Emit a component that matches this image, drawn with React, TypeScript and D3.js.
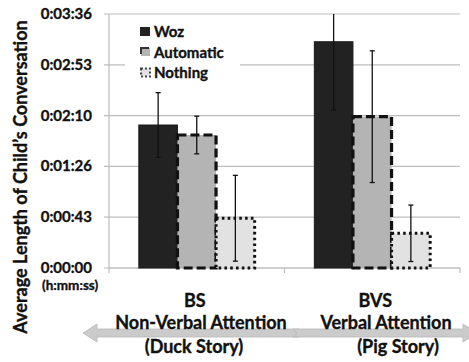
import React from "react";
import * as d3 from "d3";

const categories = ["BS", "BVS"];
const categoryLine2 = ["Non-Verbal Attention", "Verbal Attention"];
const categoryLine3 = ["(Duck Story)", "(Pig Story)"];
const seriesNames = ["Woz", "Automatic", "Nothing"];
// seconds
const wozValues = [121.6, 192.4];
const autoValues = [113.1, 128.7];
const nothingValues = [42.3, 29.5];
const wozErr = [27.5, 58];
const autoErr = [16, 56];
const nothingErr = [36.5, 24];
const yTicks = [0, 43.2, 86.4, 129.6, 172.8, 216];
const yTickLabels = ["0:00:00", "0:00:43", "0:01:26", "0:02:10", "0:02:53", "0:03:36"];

const W = 469;
const H = 362;
const FONT = "Lato, 'Open Sans', sans-serif";

const styles = [
  { fill: "#222222", stroke: "#1a1a1a", dash: "none", sw: 1 },
  { fill: "#b4b4b4", stroke: "#111111", dash: "9,4", sw: 3.2 },
  { fill: "#e2e2e2", stroke: "#111111", dash: "2.6,3.2", sw: 3 },
];

export default function App() {
  const left = 109, right = 460, top = 14, bottom = 268;
  const y = d3.scaleLinear().domain([0, 216]).range([bottom, top]);
  const x = d3.scaleBand<string>().domain(categories).range([left, right]).padding(0);
  const bw = x.bandwidth();
  const xi = d3.scaleBand<string>().domain(seriesNames).range([bw * 0.17, bw * 0.83]).padding(0);
  const values = [wozValues, autoValues, nothingValues];
  const errs = [wozErr, autoErr, nothingErr];

  const arrowY = 333;
  const leftArrow = `M83,${arrowY} L97,${arrowY - 9} L97,${arrowY - 4} L299,${arrowY - 4} L296,${arrowY} L299,${arrowY + 4} L97,${arrowY + 4} L97,${arrowY + 9} Z`;
  const rightArrow = `M293,${arrowY - 4} L463,${arrowY - 4} L463,${arrowY - 9} L477,${arrowY} L463,${arrowY + 9} L463,${arrowY + 4} L293,${arrowY + 4} L297,${arrowY} Z`;

  const txt = { fontFamily: FONT, fontWeight: "bold" as const, fill: "#111", stroke: "#111", strokeWidth: 0.35 };

  return (
    <svg width={W} height={H} style={{ position: "absolute", left: 0, top: 0, background: "#fff" }}>
      <defs>
        <clipPath id="plotclip">
          <rect x={left} y={top} width={right - left} height={bottom - top + 5} />
        </clipPath>
      </defs>
      <rect x={0} y={0} width={W} height={H} fill="#fff" />
      {yTicks.map((t, i) => (
        <line key={i} x1={left - 5} x2={right} y1={y(t)} y2={y(t)} stroke="#bdbdbd" strokeWidth={1.2} />
      ))}
      <line x1={left} x2={left} y1={top} y2={bottom} stroke="#bdbdbd" strokeWidth={1.2} />
      <line x1={left} x2={right} y1={bottom} y2={bottom} stroke="#bdbdbd" strokeWidth={1.2} />
      {[left, left + bw, right].map((tx, i) => (
        <line key={i} x1={tx} x2={tx} y1={bottom} y2={bottom + 5} stroke="#bdbdbd" strokeWidth={1.2} />
      ))}
      <rect x={125} y={19} width={115} height={64} fill="#fff" />
      {categories.map((c) =>
        seriesNames.map((s, si) => {
          const ci = categories.indexOf(c);
          const v = values[si][ci];
          const bx = (x(c) as number) + (xi(s) as number);
          const st = styles[si];
          return (
            <rect
              key={c + s}
              x={bx}
              y={y(v)}
              width={xi.bandwidth()}
              height={bottom - y(v)}
              fill={st.fill}
              stroke={st.stroke}
              strokeWidth={st.sw}
              strokeDasharray={st.dash}
            />
          );
        })
      )}
      <g clipPath="url(#plotclip)">
        {categories.map((c) =>
          seriesNames.map((s, si) => {
            const ci = categories.indexOf(c);
            const v = values[si][ci];
            const e = errs[si][ci];
            const cx = (x(c) as number) + (xi(s) as number) + xi.bandwidth() / 2;
            const y1 = y(v + e), y2 = y(v - e);
            return (
              <g key={c + s} stroke="#111" strokeWidth={1.3}>
                <line x1={cx} x2={cx} y1={y1} y2={y2} />
                <line x1={cx - 2.5} x2={cx + 2.5} y1={y1} y2={y1} />
                <line x1={cx - 2.5} x2={cx + 2.5} y1={y2} y2={y2} />
              </g>
            );
          })
        )}
      </g>
      <g>
        <rect x={140.5} y={27.5} width={9} height={8} fill="#222" stroke="#222" />
        <rect x={141} y={48} width={9} height={8} fill="#b4b4b4" stroke="#333" strokeWidth={2} strokeDasharray="8,20" />
        <rect x={141} y={68.5} width={9} height={8} fill="#e2e2e2" stroke="#444" strokeWidth={2} strokeDasharray="2,2" />
      </g>
      <g {...txt} fontSize={15}>
        <text x={154} y={37}>{seriesNames[0]}</text>
        <text x={154} y={57.5}>{seriesNames[1]}</text>
        <text x={154} y={78}>{seriesNames[2]}</text>
      </g>
      <g {...txt} fontSize={15} textAnchor="end">
        {yTicks.map((t, i) => (
          <text key={i} x={92} y={y(t) + 5}>{yTickLabels[i]}</text>
        ))}
      </g>
      <text {...txt} x={42} y={290} fontSize={13.5}>(h:mm:ss)</text>
      <text {...txt} transform="translate(27,177) rotate(-90)" textAnchor="middle" fontSize={18}>
        Average Length of Child’s Conversation
      </text>
      <path d={leftArrow} fill="#cbcbcb" stroke="#b8b8b8" strokeWidth={0.8} />
      <path d={rightArrow} fill="#cbcbcb" stroke="#b8b8b8" strokeWidth={0.8} />
      <g {...txt} fontSize={18} textAnchor="middle">
        {categories.map((c, i) => (
          <text key={c} x={(x(c) as number) + bw / 2 - 2 + i * 5} y={307}>{c}</text>
        ))}
        <text x={201} y={329}>{categoryLine2[0]}</text>
        <text x={386} y={329}>{categoryLine2[1]}</text>
        <text x={194} y={353}>{categoryLine3[0]}</text>
        <text x={398} y={353}>{categoryLine3[1]}</text>
      </g>
    </svg>
  );
}
